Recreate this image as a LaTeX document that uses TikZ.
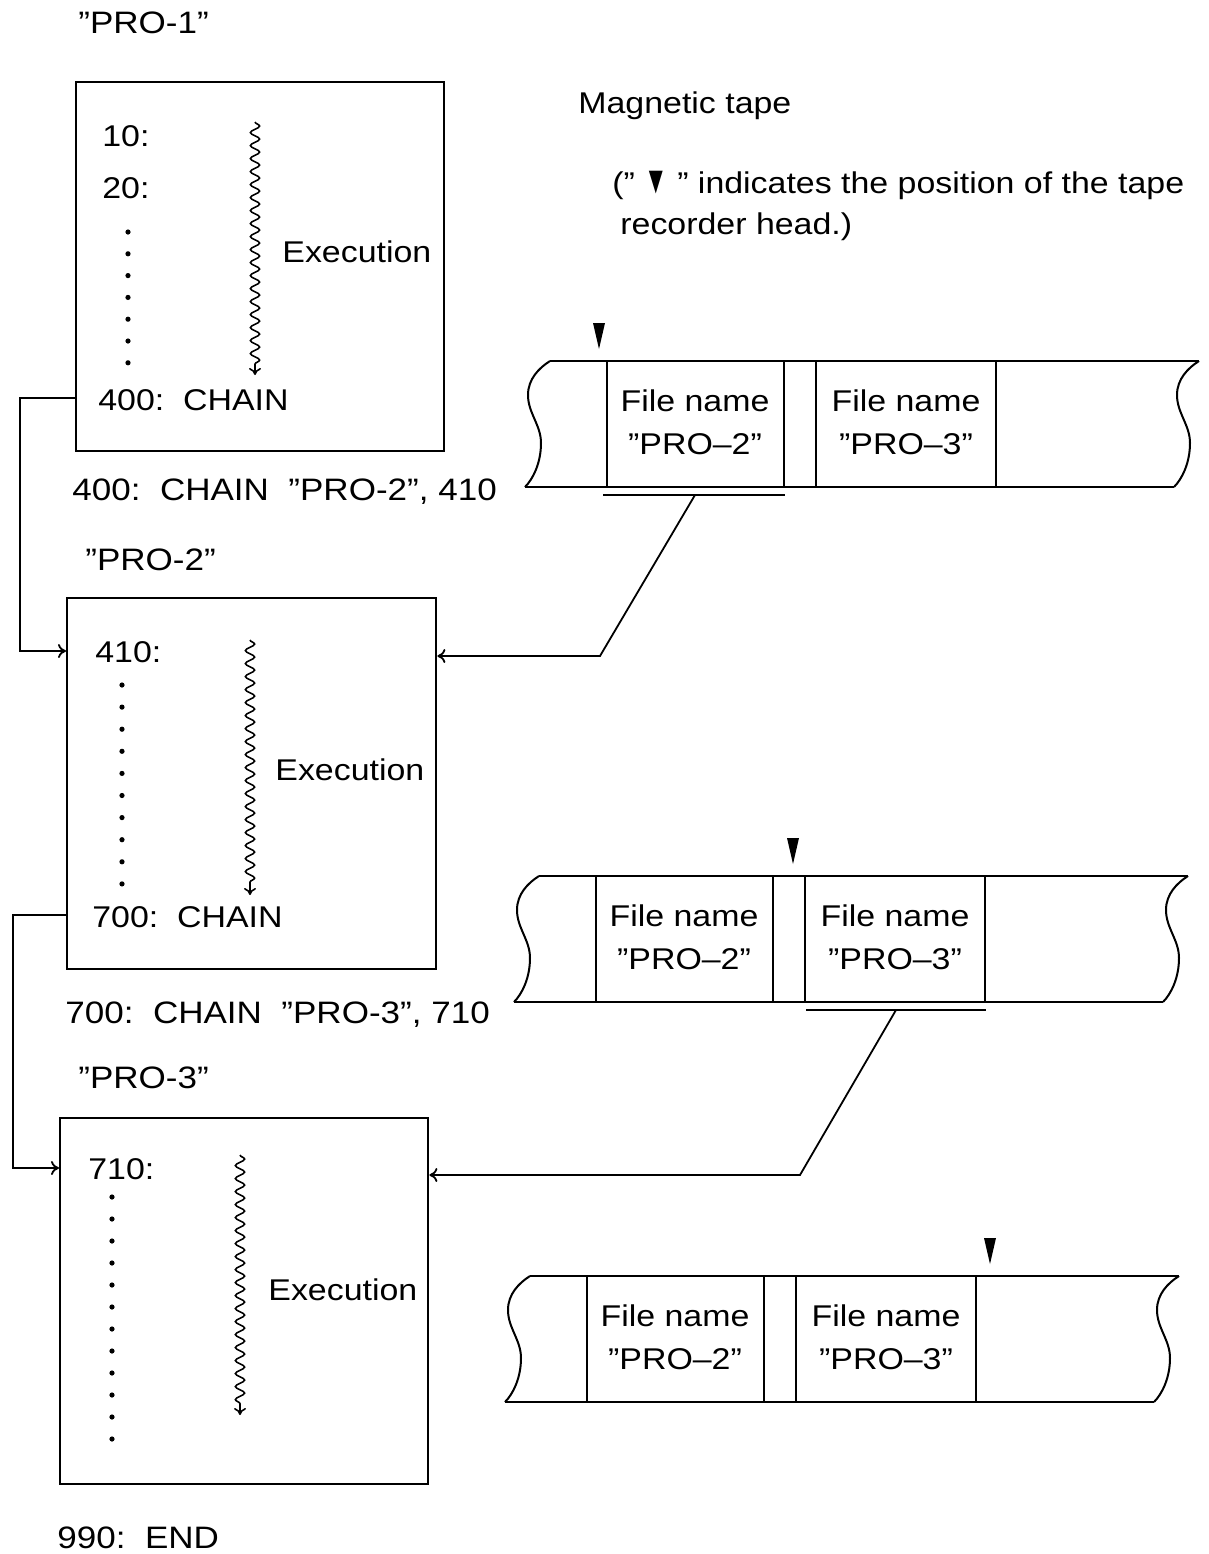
\documentclass[tikz,border=0pt]{standalone}
\usepackage{fontspec}
\setmainfont{Liberation Sans}[FakeStretch=1.13]
\usetikzlibrary{decorations.pathmorphing,arrows.meta}
\tikzset{
  txt/.style={inner sep=0pt, anchor=base west, font=\fontsize{15}{18}\selectfont},
  bigtxt/.style={txt, font=\fontsize{15.5}{18}\selectfont},
  tapetxt/.style={txt, anchor=base},
  boxnode/.style={draw, line width=1.2pt, inner sep=0pt, anchor=north west},
  conn/.style={line width=0.9pt, -{To[length=4pt,width=7pt]}},
  lead/.style={line width=0.9pt},
  tapeline/.style={line width=1pt},
  wavy/.style={line width=0.8pt, decorate,
    decoration={snake, segment length=6.5pt, amplitude=2.3pt, post length=4pt},
    -{To[length=3.5pt,width=6pt]}},
  headmark/.style={fill=black},
}
\newcommand{\drawtape}[4]{%
  \draw[tapeline] ({#2-57},{#3}) -- ({#2+592},{#3});
  \draw[tapeline] ({#2-82},{#3+126}) -- ({#2+567},{#3+126});
  \draw[tapeline] ({#2-57},{#3}) .. controls ({#2-68},{#3+7}) and ({#2-79},{#3+18}) .. ({#2-79},{#3+34})
     .. controls ({#2-79},{#3+52}) and ({#2-66},{#3+64}) .. ({#2-66},{#3+82})
     .. controls ({#2-66},{#3+102}) and ({#2-74},{#3+118}) .. ({#2-82},{#3+126});
  \draw[tapeline] ({#2+592},{#3}) .. controls ({#2+581},{#3+7}) and ({#2+570},{#3+18}) .. ({#2+570},{#3+34})
     .. controls ({#2+570},{#3+52}) and ({#2+583},{#3+64}) .. ({#2+583},{#3+82})
     .. controls ({#2+583},{#3+102}) and ({#2+575},{#3+118}) .. ({#2+567},{#3+126});
  \foreach \dv in {0,177,209,389} {\draw[tapeline] ({#2+\dv},{#3}) -- ({#2+\dv},{#3+126});}
  \fill[headmark] ({#4-6},{#3-38}) -- ({#4+6},{#3-38}) -- ({#4},{#3-12}) -- cycle;
  \node[tapetxt] (#1fa) at ({#2+88},{#3+50}) {File name};
  \node[tapetxt] (#1pa) at ({#2+88},{#3+93}) {''PRO--2''};
  \node[tapetxt] (#1fb) at ({#2+299},{#3+50}) {File name};
  \node[tapetxt] (#1pb) at ({#2+299},{#3+93}) {''PRO--3''};
}
\begin{document}
\begin{tikzpicture}[x=0.5pt,y=-0.5pt]
\fill[white] (0,0) rectangle (1209,1554);
\useasboundingbox (0,0) rectangle (1209,1554);

% program boxes
\node[boxnode, minimum width=184pt, minimum height=184.5pt] (b1) at (75,81) {};
\node[boxnode, minimum width=184.5pt, minimum height=185.5pt] (b2) at (66,597) {};
\node[boxnode, minimum width=184pt, minimum height=183pt] (b3) at (59,1117) {};

% labels
\node[bigtxt] (l1) at (78,33) {''PRO-1''};
\node[txt] (a10) at (102,146) {10:};
\node[txt] (a20) at (102,198) {20:};
\node[txt] (e1) at (282,262) {Execution};
\node[txt] (c400) at (98,410) {400:\ \ CHAIN};
\node[bigtxt] (s400) at (72,500) {400:\ \ CHAIN\ \ ''PRO-2'',\ 410};
\node[bigtxt] (l2) at (85,570) {''PRO-2''};
\node[txt] (a410) at (95,662) {410:};
\node[txt] (e2) at (275,780) {Execution};
\node[txt] (c700) at (92,927) {700:\ \ CHAIN};
\node[bigtxt] (s700) at (65,1023) {700:\ \ CHAIN\ \ ''PRO-3'',\ 710};
\node[bigtxt] (l3) at (78,1088) {''PRO-3''};
\node[txt] (a710) at (88,1179) {710:};
\node[txt] (e3) at (268,1300) {Execution};
\node[bigtxt] (end) at (57,1548) {990:\ \ END};

\node[txt] (mt) at (578,113) {Magnetic tape};
\node[txt] (n1) at (612,193) {(''\ \scalebox{0.7}[1.3]{▼}\ '' indicates the position of the tape};
\node[txt] (n2) at (620,234) {recorder head.)};

% dots
\foreach \k in {0,...,6} {\fill (128,{232+21.8*\k}) circle (2.6);}
\foreach \k in {0,...,9} {\fill (122,{685+22.1*\k}) circle (2.6);}
\foreach \k in {0,...,11} {\fill (112,{1197+22.0*\k}) circle (2.6);}

% execution arrows
\draw[wavy] (255,122) -- (255,375);
\draw[wavy] (250,640) -- (250,895);
\draw[wavy] (240,1155) -- (240,1415);

% chain connectors
\coordinate (j1) at (20,398);
\coordinate (j2) at (20,651);
\coordinate (j3) at (13,915);
\coordinate (j4) at (13,1168);
\draw[conn] (b1.west |- j1) -- (j1) -- (j2) -- (j2 -| b2.west);
\draw[conn] (b2.west |- j3) -- (j3) -- (j4) -- (j4 -| b3.west);

% tapes
\drawtape{t1}{607}{361}{599}
\drawtape{t2}{596}{876}{793}
\drawtape{t3}{587}{1276}{990}

% brackets and leaders
\draw[lead] (603,495) -- (785,495);
\coordinate (br1) at (695,495);
\draw[lead] (806,1010) -- (986,1010);
\coordinate (br2) at (896,1010);
\coordinate (k1) at (600,656);
\coordinate (k2) at (800,1175);
\draw[conn] (br1) -- (k1) -- (k1 -| b2.east);
\draw[conn] (br2) -- (k2) -- (k2 -| b3.east);
\end{tikzpicture}
\end{document}
